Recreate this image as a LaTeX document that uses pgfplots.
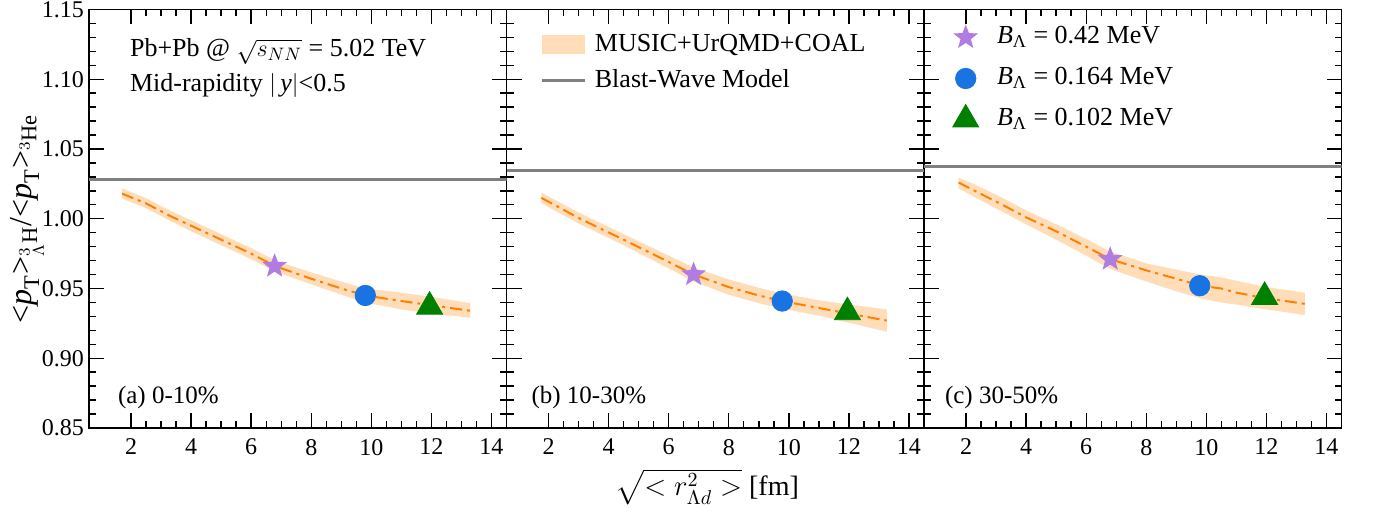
\documentclass[border=0pt]{standalone}
\usepackage{fontspec}
\setmainfont{Liberation Serif}
\usepackage{amsmath}
\usepackage{pgfplots}
\pgfplotsset{compat=1.18}
\usepackage{pgfplotstable}
\usepgfplotslibrary{fillbetween}

\definecolor{bandc}{RGB}{255,221,184}
\definecolor{linec}{RGB}{255,127,0}
\definecolor{bwc}{RGB}{128,128,128}
\definecolor{starc}{RGB}{176,124,226}
\definecolor{circc}{RGB}{26,115,226}
\definecolor{tric}{RGB}{0,128,0}

\pgfdeclareplotmark{fstar}{%
  \pgfpathmoveto{\pgfpointpolar{90}{\pgfplotmarksize}}%
  \pgfpathlineto{\pgfpointpolar{126}{0.42\pgfplotmarksize}}%
  \pgfpathlineto{\pgfpointpolar{162}{\pgfplotmarksize}}%
  \pgfpathlineto{\pgfpointpolar{198}{0.42\pgfplotmarksize}}%
  \pgfpathlineto{\pgfpointpolar{234}{\pgfplotmarksize}}%
  \pgfpathlineto{\pgfpointpolar{270}{0.42\pgfplotmarksize}}%
  \pgfpathlineto{\pgfpointpolar{306}{\pgfplotmarksize}}%
  \pgfpathlineto{\pgfpointpolar{342}{0.42\pgfplotmarksize}}%
  \pgfpathlineto{\pgfpointpolar{18}{\pgfplotmarksize}}%
  \pgfpathlineto{\pgfpointpolar{54}{0.42\pgfplotmarksize}}%
  \pgfpathclose
  \pgfusepathqfill
}

% x  y  lo  hi
\pgfplotstableread{
x y lo hi
1.7 1.018 1.0145 1.0218
2.5 1.011 1.0075 1.0148
3.3 1.002 0.9985 1.0058
4.0 0.995 0.991 0.999
5.0 0.985 0.981 0.989
6.0 0.975 0.971 0.979
6.8 0.966 0.962 0.970
8.0 0.957 0.953 0.9615
9.0 0.950 0.9455 0.955
9.8 0.945 0.940 0.950
11.0 0.941 0.935 0.947
12.0 0.938 0.932 0.944
13.3 0.934 0.929 0.9395
}\pa
\pgfplotstableread{
x y lo hi
1.76 1.015 1.0111 1.0187
3.05 1.000 0.996 1.004
4.5 0.985 0.981 0.989
5.72 0.972 0.9675 0.9765
6.83 0.960 0.955 0.965
8.0 0.951 0.9455 0.9565
9.0 0.945 0.9395 0.9505
9.78 0.941 0.9355 0.9465
11.0 0.936 0.9305 0.9415
12.0 0.932 0.9255 0.9385
13.26 0.927 0.919 0.935
}\pb
\pgfplotstableread{
x y lo hi
1.75 1.026 1.0218 1.0294
2.2 1.021 1.0165 1.0255
3.3 1.009 1.004 1.014
4.0 1.001 0.996 1.006
5.0 0.991 0.985 0.996
6.0 0.980 0.9735 0.9855
6.8 0.971 0.964 0.9765
8.0 0.963 0.955 0.968
9.0 0.957 0.948 0.9635
9.8 0.952 0.943 0.960
10.5 0.950 0.940 0.958
11.0 0.947 0.9385 0.9555
12.0 0.943 0.935 0.951
13.28 0.939 0.931 0.947
}\pc

\pgfplotsset{
  panel/.style={
    width=208.75pt, height=209.25pt, scale only axis,
    xmin=0.6, xmax=14.5, ymin=0.85, ymax=1.15,
    xtick={2,4,6,8,10,12,14},
    ytick={0.85,0.9,0.95,1,1.05,1.1,1.15},
    minor x tick num=3, minor y tick num=4,
    tick align=inside,
    major tick length=7.5pt, minor tick length=3.5pt,
    axis line style={line width=0.7pt},
    tick style={line width=0.7pt, black},
    /pgf/number format/assume math mode=true,
    tick label style={font=\fontsize{12}{14}\selectfont},
    xticklabel style={yshift=-2pt},
    yticklabel style={xshift=1pt, /pgf/number format/.cd, fixed, fixed zerofill, precision=2},
    clip=true,
  },
  band/.style={bandc, forget plot},
  mline/.style={linec, line width=1pt, dash pattern=on 6pt off 2.5pt on 1.5pt off 2.5pt, forget plot},
  bwline/.style={bwc, line width=1.7pt, forget plot},
  mstar/.style={only marks, mark=fstar, mark size=6.5pt, color=starc},
  mcirc/.style={only marks, mark=*, mark size=5.1pt, color=circc},
  mtri/.style={only marks, mark=triangle*, mark size=7.5pt, color=tric},
}

\begin{document}
\begin{tikzpicture}
% ---------- panel (a)
\begin{axis}[panel, at={(0pt,0pt)}, anchor=south west]
\addplot[name path=ua, draw=none, forget plot] table[x=x,y=hi]{\pa};
\addplot[name path=la, draw=none, forget plot] table[x=x,y=lo]{\pa};
\addplot[band] fill between[of=ua and la];
\addplot[mline] table[x=x,y=y]{\pa};
\addplot[bwline] coordinates {(0.6,1.0283) (14.5,1.0283)};
\addplot[mstar, forget plot] coordinates {(6.78,0.966)};
\addplot[mcirc, forget plot] coordinates {(9.8,0.945)};
\addplot[mtri, forget plot] coordinates {(11.94,0.937)};
\node[anchor=base west, xshift=17pt, yshift=-23.6pt, font=\fontsize{13}{15}\selectfont] at (rel axis cs:0,1) {Pb+Pb @ $\sqrt{s_{NN}}$ = 5.02 TeV};
\node[anchor=base west, xshift=17pt, yshift=-41.1pt, font=\fontsize{13}{15}\selectfont] at (rel axis cs:0,1) {Mid-rapidity $|$\,\textit{y}$|$<0.5};
\node[anchor=base west, xshift=11pt, yshift=12pt, font=\fontsize{12.5}{14}\selectfont] at (rel axis cs:0,0) {(a) 0-10\%};
\end{axis}
% ---------- panel (b)
\begin{axis}[panel, at={(208.75pt,0pt)}, anchor=south west, yticklabels={},
  legend style={draw=none, fill=none, at={(rel axis cs:0,1)}, anchor=north west,
    xshift=17pt, yshift=-12pt, font=\fontsize{13}{15}\selectfont,
    row sep=7pt, column sep=4pt, inner sep=0pt, outer sep=0pt,
    nodes={inner sep=0pt, text height=9pt, text depth=2pt}},
  legend cell align=left]
\addplot[name path=ub, draw=none, forget plot] table[x=x,y=hi]{\pb};
\addplot[name path=lb, draw=none, forget plot] table[x=x,y=lo]{\pb};
\addplot[band] fill between[of=ub and lb];
\addplot[mline] table[x=x,y=y]{\pb};
\addplot[bwline] coordinates {(0.6,1.0344) (14.5,1.0344)};
\addplot[mstar, forget plot] coordinates {(6.83,0.960)};
\addplot[mcirc, forget plot] coordinates {(9.78,0.941)};
\addplot[mtri, forget plot] coordinates {(11.95,0.933)};
\addlegendimage{legend image code/.code={\fill[bandc] (0pt,-4.5pt) rectangle (21pt,4.5pt);}}
\addlegendentry{MUSIC+UrQMD+COAL}
\addlegendimage{legend image code/.code={\draw[bwc, line width=1.7pt] (0pt,0pt) -- (21.5pt,0pt);}}
\addlegendentry{Blast-Wave Model}
\node[anchor=base west, xshift=9pt, yshift=12pt, font=\fontsize{12.5}{14}\selectfont] at (rel axis cs:0,0) {(b) 10-30\%};
\end{axis}
% ---------- panel (c)
\begin{axis}[panel, at={(417.5pt,0pt)}, anchor=south west, yticklabels={},
  legend style={draw=none, fill=none, at={(rel axis cs:0,1)}, anchor=north west,
    xshift=12.85pt, yshift=-6pt, font=\fontsize{13}{15}\selectfont,
    row sep=4.5pt, column sep=7.65pt, inner sep=0pt, outer sep=0pt,
    nodes={inner sep=0pt, text height=9pt, text depth=3pt}},
  legend cell align=left,
  legend image code/.code={\path[draw=none, fill=none] (0pt,-8pt) rectangle (16pt,8pt); \draw[#1] plot coordinates {(8pt,0pt)};}]
\addplot[name path=uc, draw=none, forget plot] table[x=x,y=hi]{\pc};
\addplot[name path=lc, draw=none, forget plot] table[x=x,y=lo]{\pc};
\addplot[band] fill between[of=uc and lc];
\addplot[mline] table[x=x,y=y]{\pc};
\addplot[bwline] coordinates {(0.6,1.0373) (14.5,1.0373)};
\addplot[mstar] coordinates {(6.8,0.971)};
\addlegendentry{\textit{B}\textsubscript{Λ} = 0.42 MeV}
\addplot[mcirc] coordinates {(9.78,0.952)};
\addlegendentry{\textit{B}\textsubscript{Λ} = 0.164 MeV}
\addplot[mtri] coordinates {(11.94,0.944)};
\addlegendentry{\textit{B}\textsubscript{Λ} = 0.102 MeV}
\node[anchor=base west, xshift=7pt, yshift=12pt, font=\fontsize{12.5}{14}\selectfont] at (rel axis cs:0,0) {(c) 30-50\%};
\end{axis}
% axis titles
\node[rotate=90, font=\fontsize{16}{18}\selectfont] at (-31pt,104.6pt) {$\text{<}\textit{p}_{\text{T}}\text{>}_{{}^{3}_{\Lambda}\text{H}}\text{/}\text{<}\textit{p}_{\text{T}}\text{>}_{{}^{3}\text{He}}$};
\node[font=\fontsize{14}{16}\selectfont] at (309.1pt,-29.5pt) {$\sqrt{<r^{2}_{\Lambda d}>}$ [fm]};
\pgfresetboundingbox
\path[use as bounding box] (-44.5pt,-43pt) rectangle (644pt,214pt);
\end{tikzpicture}
\end{document}
